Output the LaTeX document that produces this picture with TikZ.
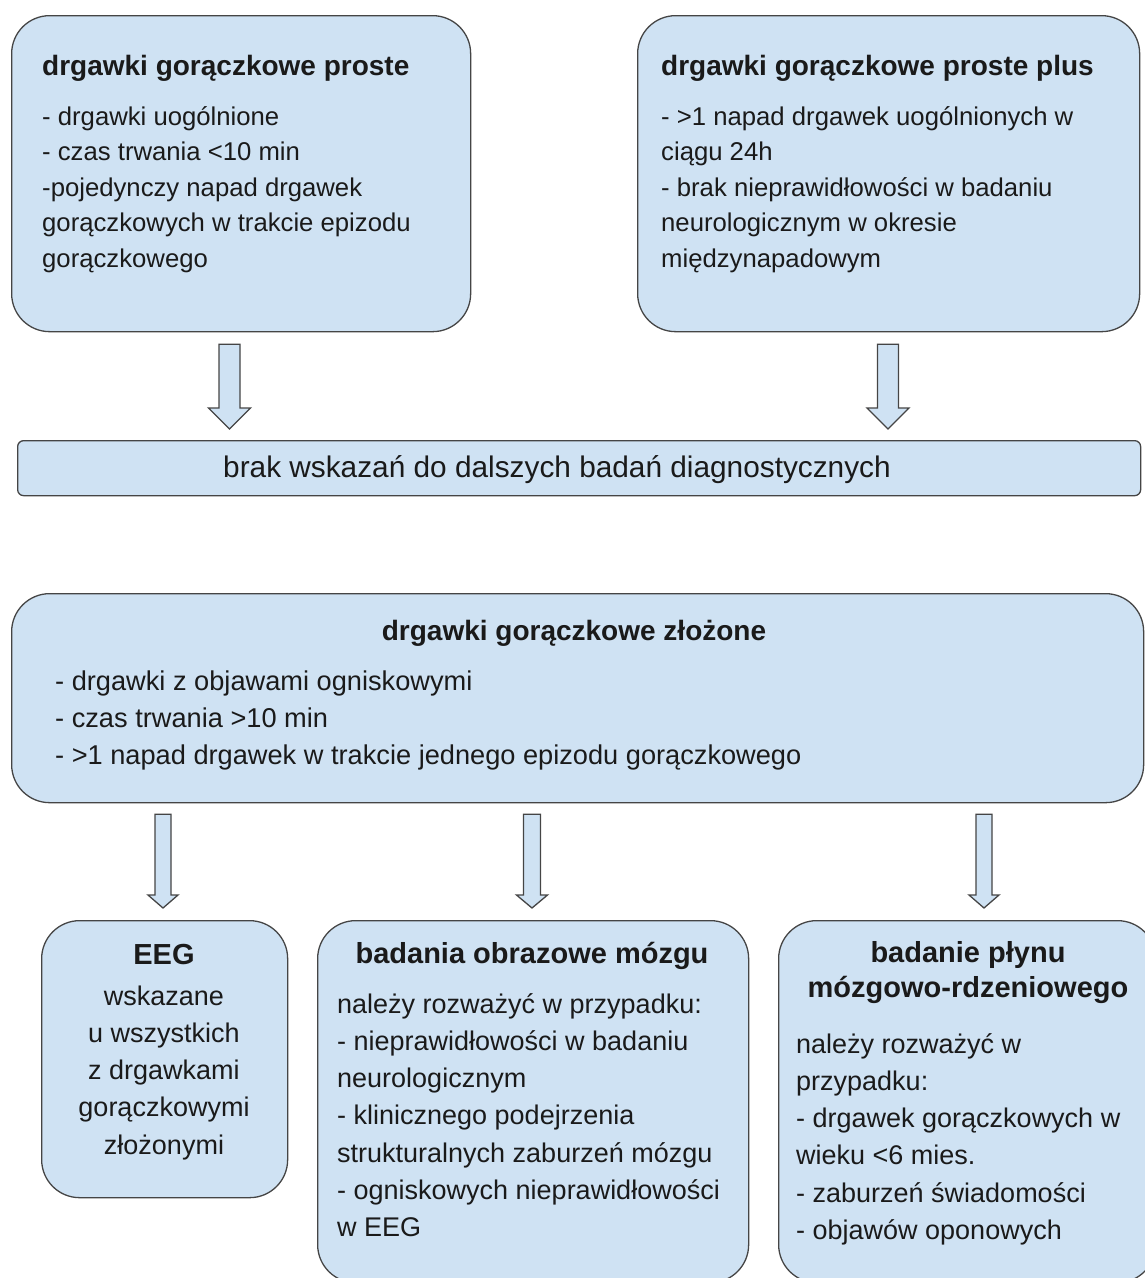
\documentclass[tikz,border=0pt]{standalone}
\usepackage{fontspec}
\setmainfont{Liberation Sans}
\usetikzlibrary{calc}
\definecolor{boxfill}{HTML}{CFE2F3}
\definecolor{boxline}{HTML}{454545}
\definecolor{txt}{HTML}{1A1A1A}
\newcommand{\llines}[1]{\begin{tabular}[t]{@{}l@{}}#1\end{tabular}}
\newcommand{\clines}[1]{\begin{tabular}[t]{@{}c@{}}#1\end{tabular}}
% #1 start coordinate, #2 tip coordinate, #3 half shaft width, #4 half head width, #5 head length
\newcommand{\blockarrow}[5]{%
  \draw[barrow] ($(#1)+(-#3,0)$) -- ($(#2)+(-#3,-#5)$) -- ($(#2)+(-#4,-#5)$) -- (#2)
    -- ($(#2)+(#4,-#5)$) -- ($(#2)+(#3,-#5)$) -- ($(#1)+(#3,0)$) -- cycle;}
\begin{document}
\begin{tikzpicture}[x=1pt,y=-1pt,
  box/.style={draw=boxline, line width=1.3pt, fill=boxfill, rounded corners=38pt,
    inner sep=0pt, anchor=north west},
  banner/.style={draw=boxline, line width=1.3pt, fill=boxfill, rounded corners=6pt,
    inner sep=0pt, anchor=north west},
  barrow/.style={draw=boxline, line width=1.3pt, fill=boxfill, line join=miter},
  ttop/.style={font=\fontsize{28}{34}\selectfont\bfseries, text=txt, inner sep=0pt},
  tbot/.style={font=\fontsize{29}{35}\selectfont\bfseries, text=txt, inner sep=0pt},
  btop/.style={font=\fontsize{25.7}{35.5}\selectfont, text=txt, inner sep=0pt},
  bmid/.style={font=\fontsize{27.2}{37}\selectfont, text=txt, inner sep=0pt},
  bbot/.style={font=\fontsize{27}{37.3}\selectfont, text=txt, inner sep=0pt},
  bban/.style={font=\fontsize{29.8}{36}\selectfont, text=txt, inner sep=0pt}]
\useasboundingbox (0,0) rectangle (1145,1278);

% boxes
\node[box, minimum width=459pt, minimum height=316pt] (simple) at (11,15) {};
\node[box, minimum width=502pt, minimum height=316pt] (plus) at (637,15) {};
\node[banner, minimum width=1123pt, minimum height=55pt] (none) at (17,440) {};
\node[box, minimum width=1132pt, minimum height=209pt] (complex) at (11,593) {};
\node[box, minimum width=246pt, minimum height=277pt] (eeg) at (41,920) {};
\node[box, minimum width=431pt, minimum height=362pt] (img) at (317,920) {};
\node[box, minimum width=377pt, minimum height=362pt] (csf) at (778,920) {};

% texts
\node[ttop, anchor=base west] (simpleT) at (42,75) {drgawki gorączkowe proste};
\node[btop, anchor=base west] (simpleB) at (42,125) {\llines{- drgawki uogólnione\\
- czas trwania <10 min\\
-pojedynczy napad drgawek\\
gorączkowych w trakcie epizodu\\
gorączkowego}};

\node[ttop, anchor=base west] (plusT) at (661,75) {drgawki gorączkowe proste plus};
\node[btop, anchor=base west] (plusB) at (661,125) {\llines{- >1 napad drgawek uogólnionych w\\
ciągu 24h\\
- brak nieprawidłowości w badaniu\\
neurologicznym w okresie\\
międzynapadowym}};

\node[bban, anchor=base] (noneT) at (557,477) {brak wskazań do dalszych badań diagnostycznych};

\node[ttop, anchor=base] (complexT) at (574,640) {drgawki gorączkowe złożone};
\node[bmid, anchor=base west] (complexB) at (55,690) {\llines{- drgawki z objawami ogniskowymi\\
- czas trwania >10 min\\
- >1 napad drgawek w trakcie jednego epizodu gorączkowego}};

\node[tbot, anchor=base] (eegT) at (164,964) {EEG};
\node[bbot, anchor=base] (eegB) at (164,1005) {\clines{wskazane\\
u wszystkich\\
z drgawkami\\
gorączkowymi\\
złożonymi}};

\node[tbot, anchor=base] (imgT) at (532,963) {badania obrazowe mózgu};
\node[bbot, anchor=base west] (imgB) at (337,1013) {\llines{należy rozważyć w przypadku:\\
- nieprawidłowości w badaniu\\
neurologicznym\\
- klinicznego podejrzenia\\
strukturalnych zaburzeń mózgu\\
- ogniskowych nieprawidłowości\\
w EEG}};

\node[tbot, anchor=base] (csfT) at (968,962) {\clines{badanie płynu\\
mózgowo-rdzeniowego}};
\node[bbot, anchor=base west] (csfB) at (796,1053) {\llines{należy rozważyć w\\
przypadku:\\
- drgawek gorączkowych w\\
wieku <6 mies.\\
- zaburzeń świadomości\\
- objawów oponowych}};

% arrows
\coordinate (a1s) at ($(229.5,0 |- simple.south)+(0,12)$);
\coordinate (a1e) at ($(229.5,0 |- none.north)+(0,-11)$);
\coordinate (a2s) at ($(888,0 |- plus.south)+(0,12)$);
\coordinate (a2e) at ($(888,0 |- none.north)+(0,-11)$);
\coordinate (a3s) at ($(163,0 |- complex.south)+(0,11)$);
\coordinate (a3e) at ($(163,0 |- eeg.north)+(0,-12)$);
\coordinate (a4s) at ($(532,0 |- complex.south)+(0,11)$);
\coordinate (a4e) at ($(532,0 |- img.north)+(0,-12)$);
\coordinate (a5s) at ($(984,0 |- complex.south)+(0,11)$);
\coordinate (a5e) at ($(984,0 |- csf.north)+(0,-12)$);
\blockarrow{a1s}{a1e}{10.5}{21}{21}
\blockarrow{a2s}{a2e}{10.5}{21}{21}
\blockarrow{a3s}{a3e}{8}{15}{13}
\blockarrow{a4s}{a4e}{8.5}{15.5}{13}
\blockarrow{a5s}{a5e}{8}{15}{13}
\end{tikzpicture}
\end{document}
